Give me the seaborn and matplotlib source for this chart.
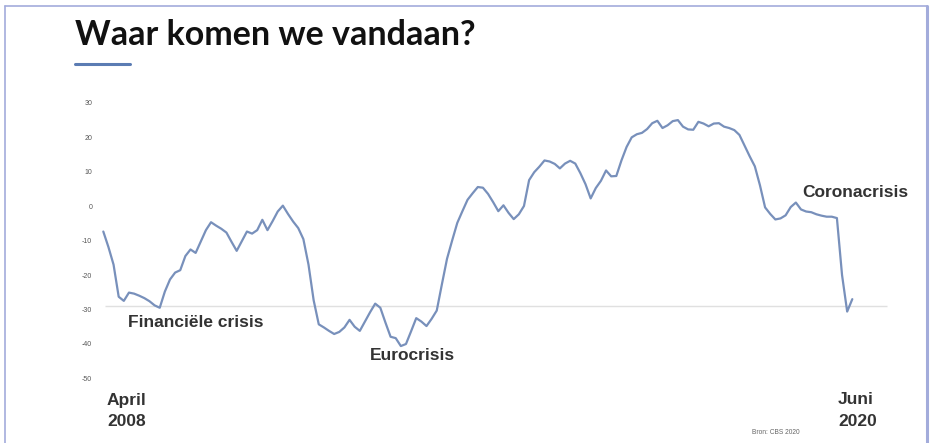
import numpy as np
import pandas as pd
import matplotlib.pyplot as plt
import seaborn as sns
from matplotlib.lines import Line2D

# CBS consumentenvertrouwen, monthly, April 2008 - June 2020
confidence = [
    -7.4, -11.9, -17.0, -26.3, -27.5, -25.1, -25.4, -26.0, -26.7, -27.6,
    -28.8, -29.5, -24.8, -21.3, -19.3, -18.6, -14.5, -12.6, -13.6, -10.3,
    -7.0, -4.7, -5.7, -6.6, -7.7, -10.4, -13.0, -10.2, -7.4, -8.0,
    -7.0, -4.0, -7.0, -4.4, -1.6, 0.1, -2.3, -4.5, -6.4, -9.6,
    -17.0, -27.3, -34.3, -35.2, -36.2, -37.1, -36.5, -35.2, -33.0, -35.0,
    -36.2, -33.5, -30.8, -28.3, -29.5, -33.8, -37.9, -38.3, -40.6, -40.0,
    -36.3, -32.5, -33.5, -34.8, -32.7, -30.3, -22.7, -15.3, -10.0, -4.9,
    -1.5, 1.8, 3.7, 5.5, 5.3, 3.5, 1.1, -1.5, 0.2, -2.0,
    -3.8, -2.4, 0.0, 7.5, 9.8, 11.4, 13.2, 12.9, 12.2, 10.9,
    12.3, 13.1, 12.3, 9.5, 6.3, 2.2, 5.2, 7.3, 10.3, 8.6,
    8.7, 13.2, 17.1, 19.9, 20.8, 21.2, 22.3, 24.0, 24.7, 22.6,
    23.4, 24.6, 24.9, 23.0, 22.2, 22.1, 24.4, 23.9, 23.1, 23.9,
    24.0, 23.0, 22.6, 22.0, 20.6, 17.5, 14.4, 11.5, 6.0, -0.4,
    -2.3, -3.9, -3.6, -2.7, -0.3, 1.0, -1.0, -1.6, -1.8, -2.4,
    -2.8, -3.1, -3.1, -3.5, -20.0, -30.6, -27.0,
]
months = pd.date_range("2008-04-01", periods=len(confidence), freq="MS")
y_ticks = [30, 20, 10, 0, -10, -20, -30, -40, -50]
ref_level = -29
crises = [("Financiële crisis", 4.8, -33.9), ("Eurocrisis", 52, -43.2), ("Coronacrisis", 136.2, 3.8)]

df = pd.DataFrame({"idx": np.arange(len(confidence)), "month": months, "value": confidence})

sns.set_style("white")
plt.rcParams['font.family'] = ['Liberation Sans', 'DejaVu Sans']

W, H = 933, 443
fig = plt.figure(figsize=(W / 100, H / 100), dpi=100)
ax = fig.add_axes([95 / W, (H - 390) / H, 800 / W, 295 / H])

# grey reference line just above -30
ax.hlines(ref_level, 0.3, 152.8, color='#e0e0e0', linewidth=1.0, zorder=1)
sns.lineplot(data=df, x="idx", y="value", ax=ax, color='#7890bb', linewidth=1.6, zorder=3)

ax.set_xlim(-(103.3 - 95) / 5.13, 146 + (895 - 852.3) / 5.13)
ax.set_ylim((206 - 390) / 3.45, (206 - 95) / 3.45)
ax.set_yticks(y_ticks)
ax.set_yticklabels([str(t) for t in y_ticks])
ax.set_xticks([])
ax.tick_params(axis='y', length=0, pad=2, labelsize=5, labelcolor='#555555')
ax.set_xlabel("")
ax.set_ylabel("")
for s in ax.spines.values():
    s.set_visible(False)

for label, xm, yv in crises:
    ax.text(xm, yv, label, fontsize=12.5, fontweight='bold', color='#333333', ha='left', va='center')

def px(x, y):
    return x / W, 1 - y / H

fig.text(*px(75, 45), "Waar komen we vandaan?", fontsize=24.5, fontweight='bold',
         family=['Lato', 'DejaVu Sans'], color='#111111', ha='left', va='baseline')
fig.add_artist(Line2D([75 / W, 130 / W], [1 - 64 / H] * 2, color='#5b7cb3', linewidth=2.2))

bold = dict(fontsize=12.5, fontweight='bold', color='#333333', va='center')
fig.text(*px(107, 400), "April", **bold)
fig.text(*px(107, 422), "2008", **bold)
fig.text(*px(838, 400), "Juni", **bold)
fig.text(*px(838, 422), "2020", **bold)
fig.text(*px(752, 433), "Bron: CBS 2020", fontsize=4.8, color='#666666', va='center')

# slide frame
frame = '#a3acdb'
fig.add_artist(Line2D([5 / W, 5 / W], [0, 1 - 6 / H], color=frame, linewidth=1.2))
fig.add_artist(Line2D([5 / W, 927 / W], [1 - 6 / H] * 2, color=frame, linewidth=1.2))
fig.add_artist(Line2D([927 / W, 927 / W], [0, 1 - 6 / H], color=frame, linewidth=2.2))

fig.savefig("out.png", dpi=100)
